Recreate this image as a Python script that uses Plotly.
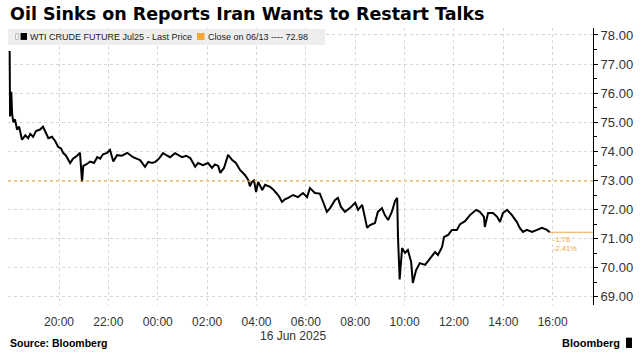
import pandas as pd
import plotly.graph_objects as go

# ---- data ----
times = ["18:00","18:01","18:04","18:06","18:09","18:13","18:18","18:23","18:30","18:38",
         "18:45","18:50","18:57","19:04","19:14","19:21","19:26","19:34","19:43","19:51",
         "19:58","20:05","20:10","20:17","20:27","20:34","20:44","20:51","20:56","20:59",
         "21:06","21:16","21:25","21:33","21:40","21:47","21:57","22:04","22:12","22:21",
         "22:33","22:46","23:00","23:17","23:29","23:37","23:46","23:54","00:03","00:13",
         "00:23","00:30","00:42","00:52","00:59","01:09","01:19","01:31","01:38","01:50",
         "02:02","02:12","02:19","02:27","02:32","02:41","02:51","03:01","03:10","03:20",
         "03:32","03:40","03:44","03:49","03:54","03:59","04:04","04:14","04:21","04:33",
         "04:40","04:48","04:55","05:02","05:09","05:17","05:29","05:41","05:53","06:03",
         "06:10","06:22","06:34","06:42","06:51","06:59","07:11","07:18","07:25","07:35",
         "07:47","08:00","08:07","08:17","08:24","08:29","08:36","08:48","08:55","09:05",
         "09:12","09:20","09:29","09:37","09:42","09:44","09:48","09:51","09:54","10:01",
         "10:08","10:16","10:20","10:28","10:37","10:50","11:02","11:14","11:21","11:31",
         "11:36","11:46","11:55","12:07","12:15","12:27","12:39","12:54","13:03","13:13",
         "13:15","13:23","13:35","13:45","13:52","13:59","14:09","14:21","14:33","14:40",
         "14:48","14:57","15:10","15:22","15:34","15:46","15:53"]
prices = [77.45,75.20,76.05,75.30,75.00,75.10,74.75,74.85,74.40,74.55,
          74.45,74.60,74.50,74.70,74.75,74.85,74.70,74.45,74.50,74.35,
          74.15,74.10,73.95,73.85,73.60,73.75,73.85,73.95,72.95,73.50,
          73.55,73.65,73.60,73.80,73.75,73.90,73.95,74.05,73.65,73.87,
          73.85,73.95,73.80,73.70,73.47,73.64,73.60,73.64,73.75,73.94,
          73.85,73.80,73.94,73.85,73.80,73.85,73.77,73.47,73.60,73.53,
          73.60,73.43,73.55,73.50,73.26,73.43,73.88,73.70,73.60,73.36,
          73.19,73.02,72.80,72.95,73.00,72.60,72.95,72.67,72.85,72.78,
          72.70,72.57,72.45,72.26,72.35,72.40,72.50,72.43,72.57,72.43,
          72.74,72.57,72.55,72.26,71.92,72.05,72.33,72.40,72.10,71.92,
          72.05,72.23,71.99,72.16,71.64,71.37,71.47,71.54,71.92,72.05,
          71.81,71.64,71.92,72.30,72.40,71.06,69.60,70.30,70.68,70.51,
          70.61,70.20,69.48,69.92,70.16,70.10,70.34,70.54,70.44,70.71,
          71.06,71.13,71.30,71.30,71.50,71.60,71.81,71.99,71.92,71.75,
          71.40,71.88,71.88,71.75,71.57,71.88,71.99,71.81,71.57,71.37,
          71.23,71.30,71.23,71.30,71.37,71.30,71.22]
prev_close = 72.98
change_text = "-1.76"
change_pct_text = "-2.41%"
tick_hours = ["2025-06-15 20:00","2025-06-15 22:00","2025-06-16 00:00","2025-06-16 02:00",
              "2025-06-16 04:00","2025-06-16 06:00","2025-06-16 08:00","2025-06-16 10:00",
              "2025-06-16 12:00","2025-06-16 14:00","2025-06-16 16:00"]
tick_labels = ["20:00","22:00","00:00","02:00","04:00","06:00","08:00","10:00","12:00","14:00","16:00"]

# build timestamps (roll over to the next day after midnight)
stamps = []
day = pd.Timestamp("2025-06-15")
prev = None
for t in times:
    h, m = map(int, t.split(":"))
    if prev is not None and (h, m) < prev:
        day = day + pd.Timedelta(days=1)
    prev = (h, m)
    stamps.append(day + pd.Timedelta(hours=h, minutes=m))

x_start = pd.Timestamp("2025-06-15 17:56")
x_end = pd.Timestamp("2025-06-16 17:38")

ORANGE = "#f2a83b"
FONT = "Liberation Sans"

fig = go.Figure()
fig.add_trace(go.Scatter(x=stamps, y=prices, mode="lines",
                         line=dict(color="#000000", width=2), hoverinfo="skip",
                         showlegend=False))

# previous close line (dotted) and last-price stub
fig.add_shape(type="line", xref="paper", x0=0, x1=1, yref="y", y0=prev_close, y1=prev_close,
              line=dict(color=ORANGE, width=1, dash="dot"))
fig.add_shape(type="line", xref="x", x0=stamps[-1], x1=x_end, yref="y",
              y0=prices[-1], y1=prices[-1], line=dict(color=ORANGE, width=1))

# legend box
fig.add_shape(type="rect", xref="paper", yref="paper", x0=0, x1=0.542, y0=0.939, y1=0.996,
              fillcolor="#eeeeee", line=dict(width=0), layer="above")
fig.add_shape(type="rect", xref="paper", yref="paper", x0=0.013, x1=0.0175, y0=0.959, y1=0.979,
              fillcolor="#ffffff", line=dict(width=0.8, color="#aaaaaa"), layer="above")
fig.add_shape(type="rect", xref="paper", yref="paper", x0=0.0215, x1=0.0325, y0=0.957, y1=0.982,
              fillcolor="#000000", line=dict(width=0), layer="above")
fig.add_shape(type="rect", xref="paper", yref="paper", x0=0.323, x1=0.336, y0=0.957, y1=0.982,
              fillcolor=ORANGE, line=dict(width=0), layer="above")

for txt, xp in [("WTI CRUDE FUTURE Jul25 - Last Price", 0.035), ("Close on 06/13 ---- 72.98", 0.338)]:
    fig.add_annotation(xref="paper", yref="paper", x=xp, y=0.9675, text=txt, xanchor="left",
                       yanchor="middle", showarrow=False,
                       font=dict(family=FONT, size=9, color="#222222"))

# change labels
fig.add_annotation(xref="x", yref="y", x=stamps[-1], y=prices[-1], text=change_text,
                   xanchor="left", yanchor="top", yshift=-1, xshift=1, showarrow=False,
                   font=dict(family=FONT, size=7.5, color=ORANGE))
fig.add_annotation(xref="x", yref="y", x=stamps[-1], y=prices[-1], text=change_pct_text,
                   xanchor="left", yanchor="top", yshift=-10, xshift=1, showarrow=False,
                   font=dict(family=FONT, size=7.5, color=ORANGE))

# date label under axis
fig.add_annotation(xref="paper", yref="paper", x=0.487, y=-0.112, text="16 Jun 2025",
                   showarrow=False, xanchor="center", yanchor="middle",
                   font=dict(family=FONT, size=12, color="#333333"))

# title, source, logo
fig.add_annotation(xref="paper", yref="paper", x=0.0, y=1.0, yshift=14,
                   text="<b>Oil Sinks on Reports Iran Wants to Restart Talks</b>",
                   showarrow=False, xanchor="left", yanchor="middle",
                   font=dict(family="DejaVu Sans", size=17.5, color="#000000"))
fig.add_annotation(xref="paper", yref="paper", x=0.0, y=-0.137, text="<b>Source: Bloomberg</b>",
                   showarrow=False, xanchor="left", yanchor="middle",
                   font=dict(family=FONT, size=10.5, color="#000000"))
fig.add_annotation(xref="paper", yref="paper", x=1.0496, y=-0.137, text="<b>Bloomberg</b>",
                   showarrow=False, xanchor="right", yanchor="middle",
                   font=dict(family=FONT, size=11, color="#000000"))
fig.add_shape(type="rect", xref="paper", yref="paper", x0=1.0564, x1=1.0667, y0=-0.155, y1=-0.118,
              fillcolor="#000000", line=dict(width=0))

fig.update_layout(
    width=642, height=363,
    margin=dict(l=8, r=49, t=28, b=58),
    paper_bgcolor="#ffffff", plot_bgcolor="#ffffff",
    font=dict(family=FONT, size=12, color="#333333"),
    xaxis=dict(type="date", range=[x_start, x_end], tickvals=tick_hours, ticktext=tick_labels,
               showgrid=True, gridcolor="#d6d6d6", griddash="dot", gridwidth=1,
               showline=False, zeroline=False, ticks="", ticklabelstandoff=8,
               tickfont=dict(family=FONT, size=12, color="#333333")),
    yaxis=dict(side="right", range=[68.72, 78.24], dtick=1, tickformat=".2f",
               showgrid=True, gridcolor="#d6d6d6", griddash="dot", gridwidth=1,
               showline=True, linecolor="#000000", linewidth=1, zeroline=False,
               ticks="outside", ticklen=4, tickcolor="#000000",
               minor=dict(dtick=0.5, ticks="outside", ticklen=3, tickcolor="#000000", showgrid=False),
               tickfont=dict(family=FONT, size=13, color="#333333")),
)

fig.write_html("out.html", config={"displayModeBar": False},
               post_script="document.body.style.margin='0px';")
